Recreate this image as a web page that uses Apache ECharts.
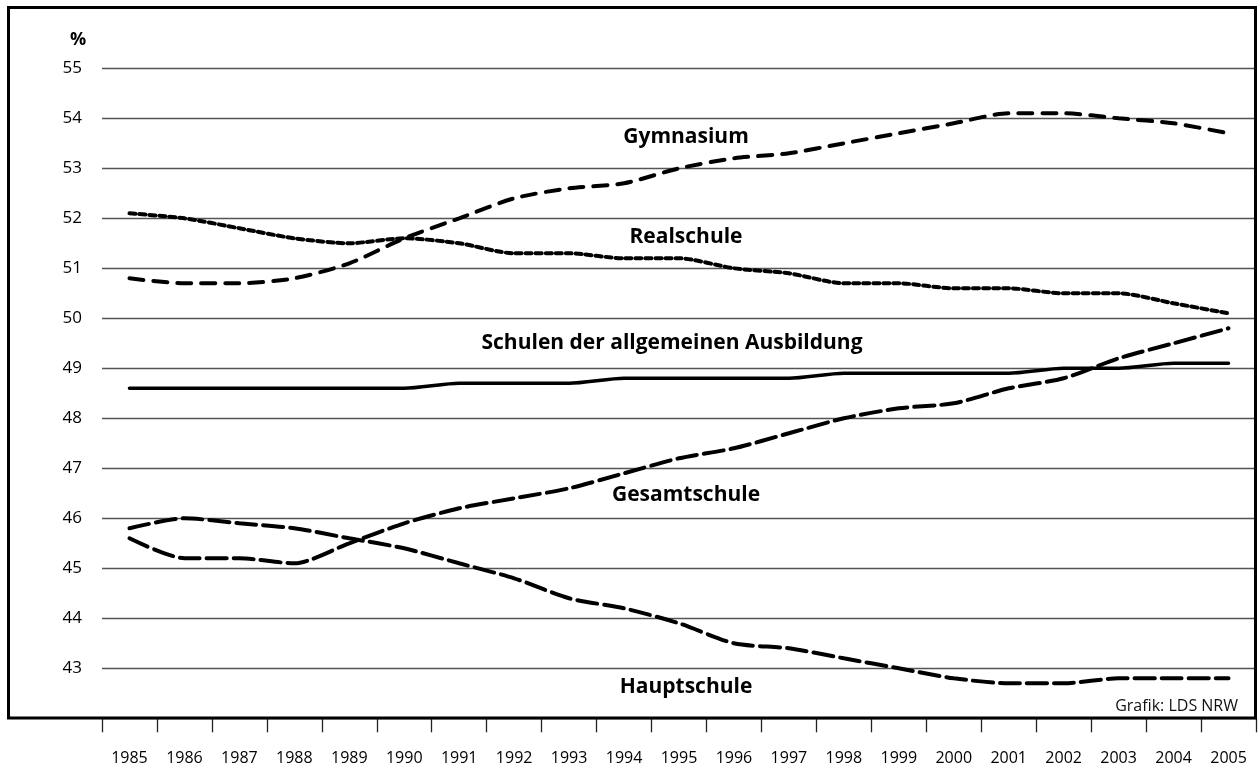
<!DOCTYPE html>
<html>
<head>
<meta charset="utf-8">
<title>Schüler nach Schulformen</title>
<script src="https://cdn.jsdelivr.net/npm/echarts@6/dist/echarts.min.js"></script>
<style>
    html, body { margin: 0; padding: 0; background: #fff; }
    #chart { width: 1259px; height: 775px; }
</style>
</head>
<body>
<div id="chart"></div>
<script>
// Jahre (x-Achse)
const years = ['1985', '1986', '1987', '1988', '1989', '1990', '1991', '1992', '1993', '1994', '1995',
    '1996', '1997', '1998', '1999', '2000', '2001', '2002', '2003', '2004', '2005']

// Anteile in %
const gymnasium = [50.8, 50.7, 50.7, 50.8, 51.1, 51.6, 52.0, 52.4, 52.6, 52.7, 53.0,
    53.2, 53.3, 53.5, 53.7, 53.9, 54.1, 54.1, 54.0, 53.9, 53.7]
const realschule = [52.1, 52.0, 51.8, 51.6, 51.5, 51.6, 51.5, 51.3, 51.3, 51.2, 51.2,
    51.0, 50.9, 50.7, 50.7, 50.6, 50.6, 50.5, 50.5, 50.3, 50.1]
const allgemein = [48.6, 48.6, 48.6, 48.6, 48.6, 48.6, 48.7, 48.7, 48.7, 48.8, 48.8,
    48.8, 48.8, 48.9, 48.9, 48.9, 48.9, 49.0, 49.0, 49.1, 49.1]
const gesamtschule = [45.6, 45.2, 45.2, 45.1, 45.5, 45.9, 46.2, 46.4, 46.6, 46.9, 47.2,
    47.4, 47.7, 48.0, 48.2, 48.3, 48.6, 48.8, 49.2, 49.5, 49.8]
const hauptschule = [45.8, 46.0, 45.9, 45.8, 45.6, 45.4, 45.1, 44.8, 44.4, 44.2, 43.9,
    43.5, 43.4, 43.2, 43.0, 42.8, 42.7, 42.7, 42.8, 42.8, 42.8]

const yMin = 42
const yMax = 55

const font = '"Open Sans", "Noto Sans", sans-serif'

const chart = echarts.init(document.getElementById('chart'))

function lineSeries(name, data, dash, width) {
    return {
        name: name,
        type: 'line',
        data: data,
        symbol: 'none',
        smooth: 0.25,
        z: 5,
        lineStyle: {
            color: '#000',
            width: width,
            type: dash,
            cap: 'round'
        }
    }
}

// Beschriftungen der Linien
function seriesText(text, x, y) {
    return {
        type: 'text',
        x: x,
        y: y,
        z: 20,
        style: {
            text: text,
            font: 'bold 21px ' + font,
            fill: '#000',
            align: 'center',
            verticalAlign: 'middle'
        }
    }
}

const option = {
    backgroundColor: '#fff',
    animation: false,
    grid: {
        left: 102,
        right: 3,
        top: 68.3,
        bottom: 56.7
    },
    xAxis: {
        type: 'category',
        data: years,
        boundaryGap: true,
        axisLine: { show: false },
        axisTick: {
            show: true,
            length: 14,
            lineStyle: { color: '#222', width: 1.3 }
        },
        axisLabel: {
            color: '#000',
            fontSize: 16,
            fontFamily: font,
            margin: 32
        },
        splitLine: { show: false }
    },
    yAxis: {
        type: 'value',
        min: yMin,
        max: yMax,
        interval: 1,
        axisLine: { show: false },
        axisTick: { show: false },
        axisLabel: {
            color: '#000',
            fontSize: 17,
            fontFamily: font,
            margin: 20,
            showMinLabel: false
        },
        splitLine: {
            lineStyle: { color: '#555', width: 1.3 }
        }
    },
    graphic: [
        // Rahmen
        {
            type: 'rect',
            z: 30,
            shape: { x: 8.5, y: 7.5, width: 1247, height: 710.5 },
            style: { fill: 'none', stroke: '#000', lineWidth: 3 }
        },
        {
            type: 'text',
            x: 78,
            y: 40,
            z: 20,
            style: {
                text: '%',
                font: 'bold 18px ' + font,
                fill: '#000',
                align: 'center',
                verticalAlign: 'middle'
            }
        },
        seriesText('Gymnasium', 686, 137),
        seriesText('Realschule', 686, 237),
        seriesText('Schulen der allgemeinen Ausbildung', 672, 343),
        seriesText('Gesamtschule', 686, 495),
        seriesText('Hauptschule', 686, 687),
        {
            type: 'text',
            x: 1238,
            y: 706,
            z: 20,
            style: {
                text: 'Grafik: LDS NRW',
                font: '16px ' + font,
                fill: '#111',
                align: 'right',
                verticalAlign: 'middle'
            }
        }
    ],
    series: [
        lineSeries('Gymnasium', gymnasium, [14, 10], 4),
        lineSeries('Realschule', realschule, [6, 4], 4),
        lineSeries('Schulen der allgemeinen Ausbildung', allgemein, 'solid', 3.5),
        lineSeries('Gesamtschule', gesamtschule, [20, 7], 4),
        lineSeries('Hauptschule', hauptschule, [20, 7], 4)
    ]
}

chart.setOption(option)
</script>
</body>
</html>
